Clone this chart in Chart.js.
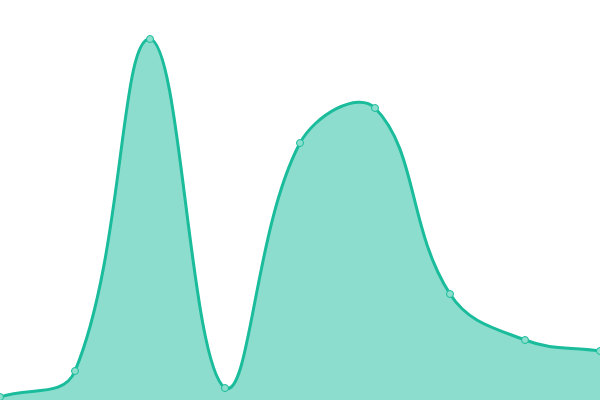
<!DOCTYPE html>
<html lang="en">
<head>
    <meta charset="UTF-8">
    <title>Area Curve</title>
    <style>
        html, body {
            margin: 0;
            padding: 0;
            background: #ffffff;
        }
        .chart-container {
            width: 600px;
            height: 400px;
        }
    </style>
</head>
<body>
    <div class="chart-container">
        <canvas id="areaChart"></canvas>
    </div>

    <script src="https://cdn.jsdelivr.net/npm/chart.js"></script>
    <script>
        // Data
        const labels = ['A', 'B', 'C', 'D', 'E', 'F', 'G', 'H', 'I'];
        const values = [3, 29, 361, 12, 257, 292, 106, 60, 49];
        const yMin = 0;
        const yMax = 400;

        const ctx = document.getElementById('areaChart').getContext('2d');
        const areaChart = new Chart(ctx, {
            type: 'line',
            data: {
                labels: labels,
                datasets: [{
                    data: values,
                    borderColor: '#1abc9c',
                    backgroundColor: 'rgba(26, 188, 156, 0.5)',
                    // opaque so the line does not show through the dots
                    pointBackgroundColor: '#8cdecd',
                    pointBorderColor: '#1abc9c',
                    pointBorderWidth: 1,
                    pointRadius: 3.5,
                    borderWidth: 3,
                    tension: 0.4,
                    fill: true
                }]
            },
            options: {
                responsive: true,
                maintainAspectRatio: false,
                animation: false,
                layout: { padding: 0, autoPadding: false },
                plugins: {
                    legend: { display: false },
                    tooltip: { enabled: false }
                },
                scales: {
                    x: { display: false },
                    y: { display: false, min: yMin, max: yMax }
                }
            }
        });
    </script>
</body>
</html>
